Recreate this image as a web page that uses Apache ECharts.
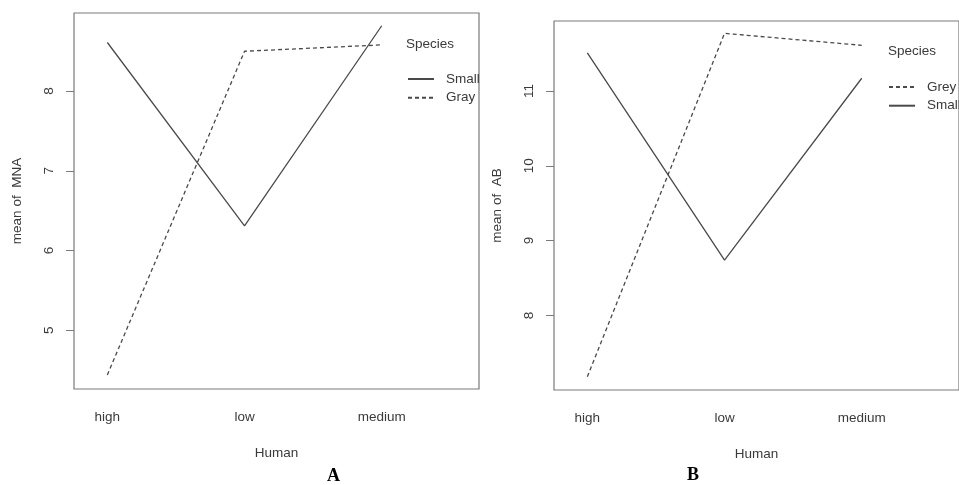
<!DOCTYPE html>
<html>
<head>
<meta charset="utf-8">
<script src="https://cdn.jsdelivr.net/npm/echarts@6/dist/echarts.min.js"></script>
<style>html,body{margin:0;padding:0;background:#fff}#c{width:959px;height:485px}</style>
</head>
<body>
<div id="c"></div>
<script>
var categories = ['high', 'low', 'medium'];
var mnaSmall = [8.61, 6.31, 8.82];
var mnaGray = [4.44, 8.50, 8.58];
var abGrey = [7.18, 11.77, 11.61];
var abSmall = [11.51, 8.74, 11.17];
var mnaTicks = [5, 6, 7, 8];
var abTicks = [8, 9, 10, 11];

function pts(arr) { return arr.map(function (v, i) { return [i + 1, v]; }); }

var FONT = 'Liberation Sans';
var FS = 13.5;
var TXT = '#3a3a3a';
var AX = '#7a7a7a';
var LINE = '#4a4a4a';

function xAxis(idx) {
  return {
    type: 'value', gridIndex: idx, min: 0.757, max: 3.709,
    axisLine: { show: false }, axisTick: { show: false }, splitLine: { show: false },
    axisLabel: { customValues: [1, 2, 3], formatter: function (v) { return categories[Math.round(v) - 1]; },
      margin: 21, color: TXT, fontFamily: FONT, fontSize: FS },
    name: 'Human', nameLocation: 'middle', nameGap: 57,
    nameTextStyle: { color: TXT, fontFamily: FONT, fontSize: FS }
  };
}
function yAxis(idx, min, max, ticks, name) {
  return {
    type: 'value', gridIndex: idx, min: min, max: max,
    axisLine: { show: false }, splitLine: { show: false },
    axisTick: { show: true, length: 8, customValues: ticks, lineStyle: { color: AX, width: 1 } },
    axisLabel: { customValues: ticks, rotate: 90, margin: 18, color: TXT, fontFamily: FONT, fontSize: FS },
    name: name, nameLocation: 'middle', nameGap: 50, nameRotate: 90,
    nameTextStyle: { color: TXT, fontFamily: FONT, fontSize: FS }
  };
}
function series(name, data, gi, dashed) {
  return {
    type: 'line', name: name, xAxisIndex: gi, yAxisIndex: gi, data: pts(data),
    symbol: 'none', animation: false, color: LINE,
    lineStyle: { color: LINE, width: 1.3, type: dashed ? [4, 3] : 'solid' }
  };
}
function legend(left, top, data) {
  return {
    left: left, top: top, orient: 'vertical', data: data, itemWidth: 26, itemHeight: 14, itemGap: 4.7,
    selectedMode: false, itemStyle: { opacity: 0 },
    textStyle: { color: TXT, fontFamily: FONT, fontSize: FS, padding: [0, 0, 0, 7] }
  };
}

var chart = echarts.init(document.getElementById('c'), null, { renderer: 'canvas' });
chart.setOption({
  animation: false,
  backgroundColor: '#fff',
  grid: [
    { left: 74, top: 13, width: 405, height: 376, show: true, borderColor: AX, borderWidth: 1.2, backgroundColor: 'transparent' },
    { left: 554, top: 21, width: 407, height: 369, show: true, borderColor: AX, borderWidth: 1.2, backgroundColor: 'transparent' }
  ],
  xAxis: [xAxis(0), xAxis(1)],
  yAxis: [
    yAxis(0, 4.263, 8.98, mnaTicks, 'mean of  MNA'),
    yAxis(1, 7.003, 11.935, abTicks, 'mean of  AB')
  ],
  legend: [
    legend(402, 67, ['Small', 'Gray']),
    legend(883, 75, ['Grey', 'Small'])
  ],
  series: [
    series('Small', mnaSmall, 0, false),
    series('Gray', mnaGray, 0, true),
    series('Grey', abGrey, 1, true),
    series('Small', abSmall, 1, false)
  ],
  graphic: [
    { type: 'text', left: 406, top: 37, style: { text: 'Species', fill: TXT, font: FS + 'px "Liberation Sans"' } },
    { type: 'text', left: 888, top: 44, style: { text: 'Species', fill: TXT, font: FS + 'px "Liberation Sans"' } },
    { type: 'text', left: 327, top: 467, style: { text: 'A', fill: '#000', font: 'bold 18px "Liberation Serif"' } },
    { type: 'text', left: 687, top: 466, style: { text: 'B', fill: '#000', font: 'bold 18px "Liberation Serif"' } }
  ]
});
</script>
</body>
</html>
